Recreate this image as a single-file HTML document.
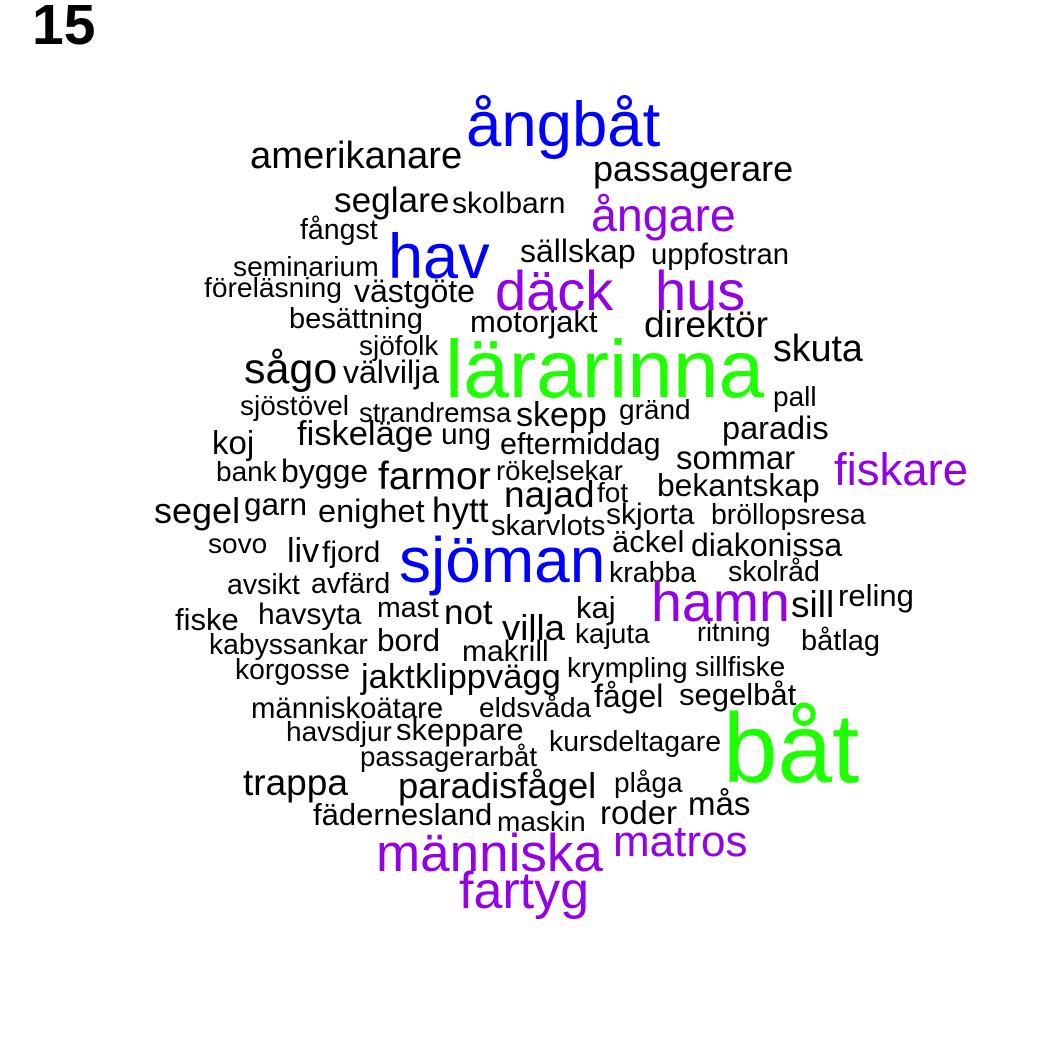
<!DOCTYPE html>
<html lang="sv">
<head>
<meta charset="utf-8">
<title>Word cloud 15</title>
<style>
html,body{margin:0;padding:0;background:#fff;width:1050px;height:1050px;overflow:hidden}
svg{display:block}
text{font-family:"Liberation Sans",Arial,sans-serif}
</style>
</head>
<body>
<svg id="cloud" xmlns="http://www.w3.org/2000/svg" width="1050" height="1050" viewBox="0 0 1050 1050">
<rect width="1050" height="1050" fill="#ffffff"/>
<text x="32" y="44" font-size="57" font-weight="700" fill="#000">15</text>
</svg>
<script>
const words = ["ångbåt","amerikanare","passagerare","seglare","skolbarn","ångare","fångst","sällskap","uppfostran","hav","seminarium","föreläsning","västgöte","däck","hus","besättning","motorjakt","direktör","sjöfolk","skuta","lärarinna","sågo","välvilja","pall","sjöstövel","strandremsa","skepp","gränd","paradis","koj","fiskeläge","ung","eftermiddag","sommar","fiskare","bank","bygge","farmor","rökelsekar","najad","fot","bekantskap","segel","garn","enighet","hytt","skjorta","bröllopsresa","skarvlots","äckel","sovo","liv","fjord","sjöman","diakonissa","krabba","skolråd","avsikt","avfärd","hamn","sill","reling","fiske","havsyta","mast","not","kaj","villa","kajuta","ritning","båtlag","kabyssankar","bord","makrill","korgosse","jakt","klippvägg","krympling","sillfiske","fågel","segelbåt","människoätare","eldsvåda","båt","havsdjur","skeppare","kursdeltagare","passagerarbåt","trappa","paradisfågel","plåga","mås","fädernesland","maskin","roder","matros","människa","fartyg"];
const weights = [63.5,38.2,36,35.2,30,46.5,28.5,32,29.2,63,28.2,28.2,32,56,56,29,31,37.2,28,37.6,82,43,32,28,28,27.4,34,28,32.5,33,34.5,30,30.4,33,45.5,28,32,39,27.5,37,28,31.8,36,31.5,32.5,35,30,28.4,29,31,28,34,30,64,32,28.5,28.5,28.5,28.5,55.5,37,31,31,30,28.5,35,31,36.5,28,27,29,28.3,31.5,30,28.3,34.5,34.5,28.2,28,32,31,29.3,28,98,28,31,28.4,27.7,37,36.4,28,33,31,28,33,44,53,52];
const startX = [466,250,593,334,452,591,300,520,651,388,233,204,354,495,655,289,470,644,359,773,445,244,343,773,240,359,516,619,722,212,297,441,500,676,834,216,281,378,496,504,597,657,154,244,318,432,606,711,491,612,208,287,322,399,691,609,728,227,311,651,791,838,175,258,377,444,576,502,575,697,801,209,377,462,235,361,415,567,695,594,679,251,479,723,286,396,549,360,243,398,614,688,313,497,600,613,376,459];
const baseY = [146,168,181,212,213,231,239,262,264,278,276,297,302,310,310,328,332,337,355,361,397,383,383,406,415,422,426,419,439,454,445,444,454,469,485,481,482,489,480,507,502,496,523,515,522,522,524,524,535,552,553,562,562,582,556,582,581,594,593,621,617,606,630,624,617,624,618,640,643,641,650,654,651,661,679,688,688,677,676,707,705,718,717,782,741,740,751,766,795,798,792,815,825,831,824,856,871,908];

function fontSize(w){ return w; }
function wordColor(w){
  if (w >= 80) return "#1eff00";
  if (w >= 60) return "#0000ff";
  if (w >= 44) return "#9400e8";
  return "#000000";
}
const svg = document.getElementById("cloud");
words.forEach(function(word, i){
  const el = document.createElementNS("http://www.w3.org/2000/svg", "text");
  
  
  el.setAttribute("x", startX[i]);
  el.setAttribute("y", baseY[i]);
  el.setAttribute("font-size", fontSize(weights[i]));
  el.setAttribute("fill", wordColor(weights[i]));
  el.textContent = word;
  svg.appendChild(el);
});
</script>
</body>
</html>
